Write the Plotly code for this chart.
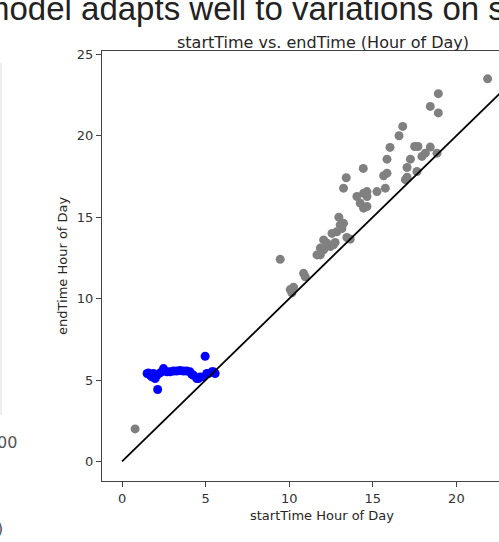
import plotly.graph_objects as go

# grey points (other days)
start_grey = [21.87, 18.92, 18.44, 18.92, 16.79, 16.57, 16.03, 17.5, 17.7, 18.44,
              15.85, 17.25, 17.94, 18.14, 18.84, 14.43, 17.05, 17.64, 16.95, 17.05,
              13.41, 15.65, 15.85, 13.25, 14.05, 14.45, 14.65, 14.65, 15.25, 15.75,
              14.25, 14.45, 14.65, 12.97, 13.05, 13.25, 13.15, 12.56, 12.85, 12.06,
              13.45, 13.65, 12.26, 12.65, 12.75, 11.86, 12.06, 12.46, 11.66, 11.86,
              9.46, 10.86, 10.96, 10.06, 10.26, 10.16, 0.78]
end_grey = [23.49, 22.58, 21.8, 21.4, 20.57, 20.0, 19.28, 19.34, 19.34, 19.3,
            18.56, 18.56, 18.73, 18.93, 18.93, 17.99, 18.05, 17.8, 17.3, 17.45,
            17.42, 17.54, 17.7, 16.78, 16.27, 16.47, 16.57, 16.27, 16.57, 16.78,
            15.86, 15.55, 15.65, 15.0, 14.52, 14.62, 14.3, 14.0, 14.1, 13.6,
            13.75, 13.65, 13.4, 13.3, 13.45, 13.1, 13.0, 13.2, 12.68, 12.68,
            12.41, 11.55, 11.34, 10.55, 10.7, 10.35, 2.0]

# blue points (highlighted)
start_blue = [4.97, 2.13, 1.5, 1.58, 1.68, 1.78, 1.88, 1.98, 2.1, 2.3,
              2.48, 2.68, 2.87, 3.07, 3.27, 3.47, 3.67, 3.87, 4.07, 4.17,
              4.27, 4.47, 4.57, 4.67, 4.87, 5.07, 5.17, 5.37, 5.47, 5.57]
end_blue = [6.46, 4.42, 5.4, 5.43, 5.3, 5.19, 5.4, 5.09, 5.3, 5.45,
            5.7, 5.5, 5.5, 5.55, 5.55, 5.58, 5.55, 5.55, 5.5, 5.35,
            5.29, 5.09, 5.09, 5.19, 5.19, 5.4, 5.4, 5.5, 5.5, 5.4]

diag = [0, 24]
x_ticks = [0, 5, 10, 15, 20]
y_ticks = [0, 5, 10, 15, 20, 25]

W, H = 499, 542
L, R, T, B = 102, 0, 51, 61

fig = go.Figure()
fig.add_trace(go.Scatter(x=start_grey, y=end_grey, mode="markers",
                         marker=dict(color="#808080", size=9, line=dict(width=0))))
fig.add_trace(go.Scatter(x=start_blue, y=end_blue, mode="markers",
                         marker=dict(color="#0000ff", size=9, line=dict(width=0))))
fig.add_trace(go.Scatter(x=diag, y=diag, mode="lines",
                         line=dict(color="black", width=1.8)))

def px_to_paper_x(px):
    return (px - L) / (W - L - R)

def px_to_paper_y(py):
    return (H - B - py) / (H - T - B)

tick_font = dict(family="DejaVu Sans", size=13, color="#333333")
fig.update_layout(
    width=W, height=H, showlegend=False,
    margin=dict(l=L, r=R, t=T, b=B),
    paper_bgcolor="white", plot_bgcolor="white",
    xaxis=dict(range=[-1.2, 22.55], tickvals=x_ticks, showgrid=False, zeroline=False,
               showline=True, linecolor="#444444", linewidth=1, mirror=True,
               ticks="outside", ticklen=5, tickcolor="#444444", tickfont=tick_font),
    yaxis=dict(range=[-1.2, 25.2], tickvals=y_ticks, showgrid=False, zeroline=False,
               showline=True, linecolor="#444444", linewidth=1,
               ticks="outside", ticklen=5, tickcolor="#444444", tickfont=tick_font),
)

ann = []
ann.append(dict(text="startTime vs. endTime (Hour of Day)", x=px_to_paper_x(323), y=px_to_paper_y(42),
                xref="paper", yref="paper", showarrow=False, xanchor="center", yanchor="middle",
                font=dict(family="DejaVu Sans", size=16, color="#262626")))
ann.append(dict(text="startTime Hour of Day", x=px_to_paper_x(322), y=px_to_paper_y(515),
                xref="paper", yref="paper", showarrow=False, xanchor="center", yanchor="middle",
                font=dict(family="DejaVu Sans", size=13, color="#262626")))
ann.append(dict(text="endTime Hour of Day", x=px_to_paper_x(62), y=px_to_paper_y(266),
                xref="paper", yref="paper", showarrow=False, xanchor="center", yanchor="middle",
                textangle=-90, font=dict(family="DejaVu Sans", size=13, color="#262626")))
ann.append(dict(text="model adapts well to variations on s", x=px_to_paper_x(-20), y=px_to_paper_y(9),
                xref="paper", yref="paper", showarrow=False, xanchor="left", yanchor="middle",
                font=dict(family="Liberation Sans", size=33, color="#222222")))
ann.append(dict(text="00", x=px_to_paper_x(-5), y=px_to_paper_y(442),
                xref="paper", yref="paper", showarrow=False, xanchor="left", yanchor="middle",
                font=dict(family="DejaVu Sans", size=16, color="#555555")))
ann.append(dict(text=")", x=px_to_paper_x(-5), y=px_to_paper_y(528),
                xref="paper", yref="paper", showarrow=False, xanchor="left", yanchor="middle",
                font=dict(family="DejaVu Sans", size=16, color="#555555")))
fig.update_layout(annotations=ann)
fig.add_shape(type="line", xref="paper", yref="paper",
              x0=px_to_paper_x(1), x1=px_to_paper_x(1), y0=px_to_paper_y(63), y1=px_to_paper_y(415),
              line=dict(color="#dddddd", width=1))

fig.write_html("out.html", config={"displayModeBar": False},
               post_script="document.body.style.margin='0';document.body.style.overflow='hidden';")
